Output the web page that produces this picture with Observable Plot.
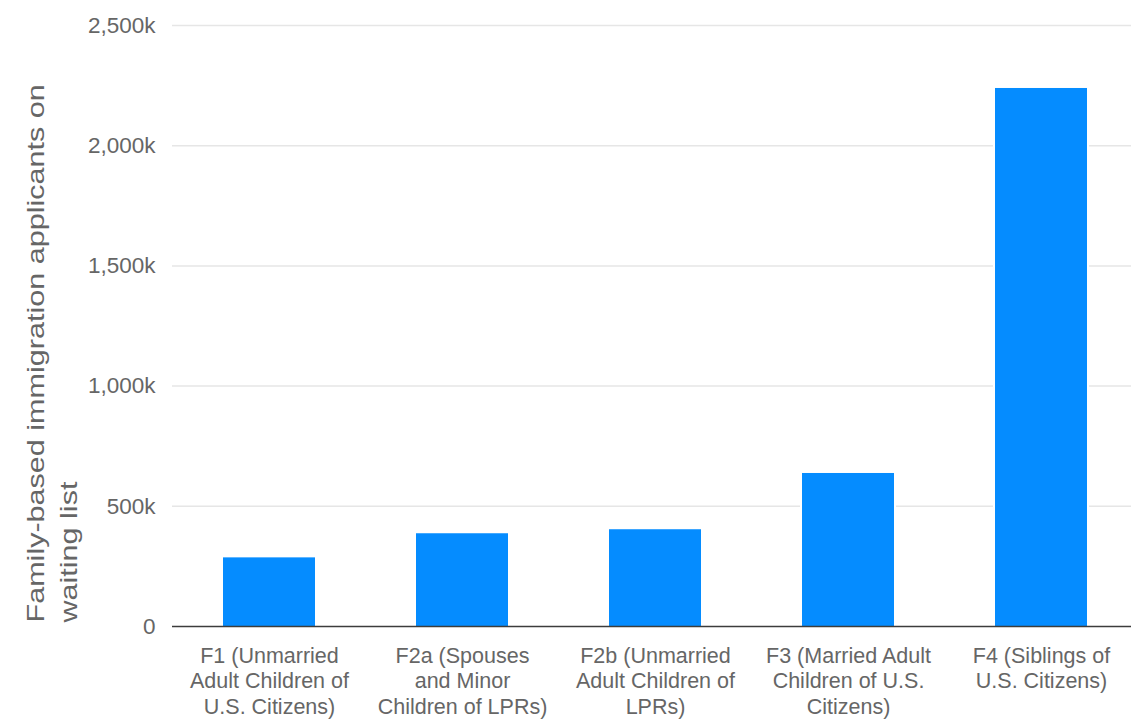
<!DOCTYPE html>
<html>
<head>
<meta charset="utf-8">
<script src="https://cdn.jsdelivr.net/npm/d3@7"></script>
<script src="https://cdn.jsdelivr.net/npm/@observablehq/plot@0.6"></script>
<style>
  html, body { margin: 0; padding: 0; background: #fff; }
  #chart svg { display: block; }
</style>
</head>
<body>
<div id="chart"></div>
<script>
// Categories (full names) and their wrapped tick labels
const categories = [
  "F1 (Unmarried Adult Children of U.S. Citizens)",
  "F2a (Spouses and Minor Children of LPRs)",
  "F2b (Unmarried Adult Children of LPRs)",
  "F3 (Married Adult Children of U.S. Citizens)",
  "F4 (Siblings of U.S. Citizens)"
];
const tickLabels = [
  "F1 (Unmarried\nAdult Children of\nU.S. Citizens)",
  "F2a (Spouses\nand Minor\nChildren of LPRs)",
  "F2b (Unmarried\nAdult Children of\nLPRs)",
  "F3 (Married Adult\nChildren of U.S.\nCitizens)",
  "F4 (Siblings of\nU.S. Citizens)"
];
// Applicants on waiting list
const applicants = [285500, 385800, 402500, 636500, 2238000];
// Y ticks
const yTicks = [0, 500000, 1000000, 1500000, 2000000, 2500000];
const yTitle = "Family-based immigration applicants on\nwaiting list";

const data = categories.map((c, i) => ({category: c, value: applicants[i]}));
const labelOf = new Map(categories.map((c, i) => [c, tickLabels[i]]));
const fmtY = d => d === 0 ? "0" : d3.format(",")(d / 1000) + "k";

const font = "'Liberation Sans', Arial, Helvetica, sans-serif";
const textColor = "#666666";

const chart = Plot.plot({
  width: 1131,
  height: 722,
  marginTop: 25,
  marginBottom: 96,
  marginLeft: 172,
  marginRight: 0,
  style: {fontFamily: font, background: "#fff", overflow: "visible"},
  x: {domain: categories, range: [172, 1138], paddingInner: 0.525, paddingOuter: 0.26, align: 0.5, label: null},
  y: {domain: [0, 2500000], label: null},
  marks: [
    Plot.ruleY(yTicks.filter(d => d !== 0), {stroke: "#e6e6e6", strokeWidth: 1.5}),
    Plot.barY(data, {x: "category", y: "value", fill: "#ffffff",
      insetLeft: -2, insetRight: -2, insetTop: -2}),
    Plot.barY(data, {x: "category", y: "value", fill: "#058cff"}),
    Plot.ruleY([0], {stroke: "#3c3c3c", strokeWidth: 1.6}),
    Plot.axisY({ticks: yTicks, tickFormat: fmtY, tickSize: 0, tickPadding: 17,
      fontSize: 22.5, fill: textColor, label: null}),
    Plot.axisX({tickSize: 0, tickPadding: 18, fontSize: 21.5, lineHeight: 1.195,
      fill: textColor, tickFormat: d => labelOf.get(d), label: null}),
    Plot.text([yTitle], {frameAnchor: "bottom-left", dx: -152, dy: -4,
      rotate: -90, textAnchor: "start", lineAnchor: "top", lineHeight: 1.4,
      fontSize: 23.5, fill: textColor})
  ]
});
// The reference's axis title is drawn stretched along its reading direction
d3.select(chart).selectAll('g[aria-label="text"] text').each(function() {
  const t = this.getAttribute("transform") || "";
  this.setAttribute("transform", t + " scale(1.3,1)");
});
document.getElementById("chart").appendChild(chart);
</script>
</body>
</html>
